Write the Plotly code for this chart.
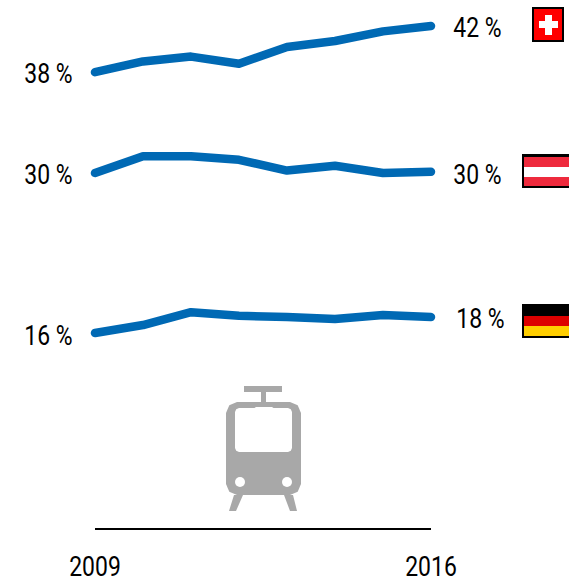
import plotly.graph_objects as go

years = [2009, 2010, 2011, 2012, 2013, 2014, 2015, 2016]
switzerland = [38.4, 39.3, 39.7, 39.1, 40.5, 41.0, 41.8, 42.25]
austria = [30.0, 31.4, 31.4, 31.1, 30.2, 30.6, 30.0, 30.1]
germany = [16.67, 17.33, 18.4, 18.1, 18.0, 17.83, 18.17, 18.0]
series = [switzerland, austria, germany]
left_labels = ["38 %", "30 %", "16 %"]
right_labels = ["42 %", "30 %", "18 %"]
tick_years = [2009, 2016]

W, H = 569, 581
L, R, T, B = 95, 431, 0, 528
FONT = "Roboto, sans-serif"
FS = 27


def fx(px):
    return (px - L) / (R - L)


def fy(py):
    return (B - py) / (B - T)


fig = go.Figure()
for s in series:
    fig.add_trace(go.Scatter(x=years, y=s, mode="lines", cliponaxis=False,
                             line=dict(color="#0069b4", width=8.5, shape="linear"),
                             hoverinfo="skip", showlegend=False))

shapes = []


def rect(x0, y0, x1, y1, fill, line=None, lw=0):
    shapes.append(dict(type="rect", xref="paper", yref="paper", layer="above",
                       x0=fx(x0), x1=fx(x1), y0=fy(y1), y1=fy(y0), fillcolor=fill,
                       line=dict(color=line or fill, width=lw)))


def poly(pts, fill):
    d = "M " + " L ".join(f"{fx(a):.5f},{fy(b):.5f}" for a, b in pts) + " Z"
    shapes.append(dict(type="path", xref="paper", yref="paper", layer="above", path=d,
                       fillcolor=fill, line=dict(width=0)))


def rounded(x0, y0, x1, y1, r):
    k = r * 0.3
    return [(x0 + r, y0), (x1 - r, y0), (x1 - k, y0 + k), (x1, y0 + r), (x1, y1 - r), (x1 - k, y1 - k),
            (x1 - r, y1), (x0 + r, y1), (x0 + k, y1 - k), (x0, y1 - r), (x0, y0 + r), (x0 + k, y0 + k)]


def circle(cx, cy, r, fill):
    shapes.append(dict(type="circle", xref="paper", yref="paper", layer="above",
                       x0=fx(cx - r), x1=fx(cx + r), y0=fy(cy + r), y1=fy(cy - r),
                       fillcolor=fill, line=dict(width=0)))


# Swiss flag
rect(532, 7, 564, 42, "#000000")
rect(534, 9, 562, 40, "#ff0000")
rect(539, 21, 558, 28, "#ffffff")
rect(545, 15, 552, 35, "#ffffff")
# Austrian flag
rect(522, 154, 575, 188, "#000000")
rect(524, 157, 575, 167, "#ee2a3d")
rect(524, 167, 575, 177, "#ffffff")
rect(524, 177, 575, 186, "#ee2a3d")
# German flag
rect(522, 304, 575, 338, "#000000")
rect(524, 316, 575, 326, "#dd0000")
rect(524, 326, 575, 336, "#ffce00")

# Tram icon
G = "#a8a8a8"
rect(244, 386, 282, 392, G)
rect(261, 392, 266, 403, G)
poly(rounded(226, 402, 301, 495, 11), G)
poly([(234, 495), (243, 495), (236, 511), (229, 511)], G)
poly([(284, 495), (293, 495), (297, 511), (290, 511)], G)
poly(rounded(235, 408, 292, 452, 4), "#ffffff")
poly([(253, 409), (256, 407), (272, 407), (275, 409)], "#ffffff")
circle(240, 482, 5, "#ffffff")
circle(287, 482, 5, "#ffffff")

annotations = []
for text, yp in zip(left_labels, [74, 175, 336]):
    annotations.append(dict(text=text, xref="paper", yref="paper", x=fx(49), y=fy(yp),
                            xanchor="center", yanchor="middle", showarrow=False))
for text, xp, yp in zip(right_labels, [477, 477, 480], [28, 175, 319]):
    annotations.append(dict(text=text, xref="paper", yref="paper", x=fx(xp), y=fy(yp),
                            xanchor="center", yanchor="middle", showarrow=False))

fig.update_layout(
    width=W, height=H, autosize=False,
    margin=dict(l=L, r=W - R, t=T, b=H - B, pad=0),
    paper_bgcolor="white", plot_bgcolor="white",
    font=dict(family=FONT, size=FS, color="#000000"),
    shapes=shapes, annotations=annotations, showlegend=False,
    xaxis=dict(range=[2009, 2016], tickmode="array", tickvals=tick_years, automargin=False,
               ticktext=[str(t) for t in tick_years], showgrid=False, zeroline=False,
               showline=True, linecolor="#000000", linewidth=2, ticks="outside",
               ticklen=14, tickcolor="rgba(0,0,0,0)", tickfont=dict(family=FONT, size=FS, color="#000000")),
    yaxis=dict(range=[0.417, 44.417], visible=False, automargin=False),
)
condense = """
document.body.style.margin='0';document.documentElement.style.overflow='hidden';
document.querySelectorAll('.annotation-text, .xtick text').forEach(function(t){
  var w=t.getComputedTextLength();
  t.setAttribute('textLength', (w*0.85).toFixed(1));
  t.setAttribute('lengthAdjust','spacingAndGlyphs');
});
document.querySelectorAll('.js-line').forEach(function(p){
  p.style.setProperty('stroke-linecap','round','important');
  p.style.setProperty('stroke-linejoin','round','important');
  var e=p;
  while(e && e.tagName.toLowerCase()!=='svg'){ e.removeAttribute('clip-path'); e.style.removeProperty('clip-path'); e=e.parentNode; }
});
"""
fig.write_html("out.html", config={"displayModeBar": False, "responsive": False}, post_script=condense)
